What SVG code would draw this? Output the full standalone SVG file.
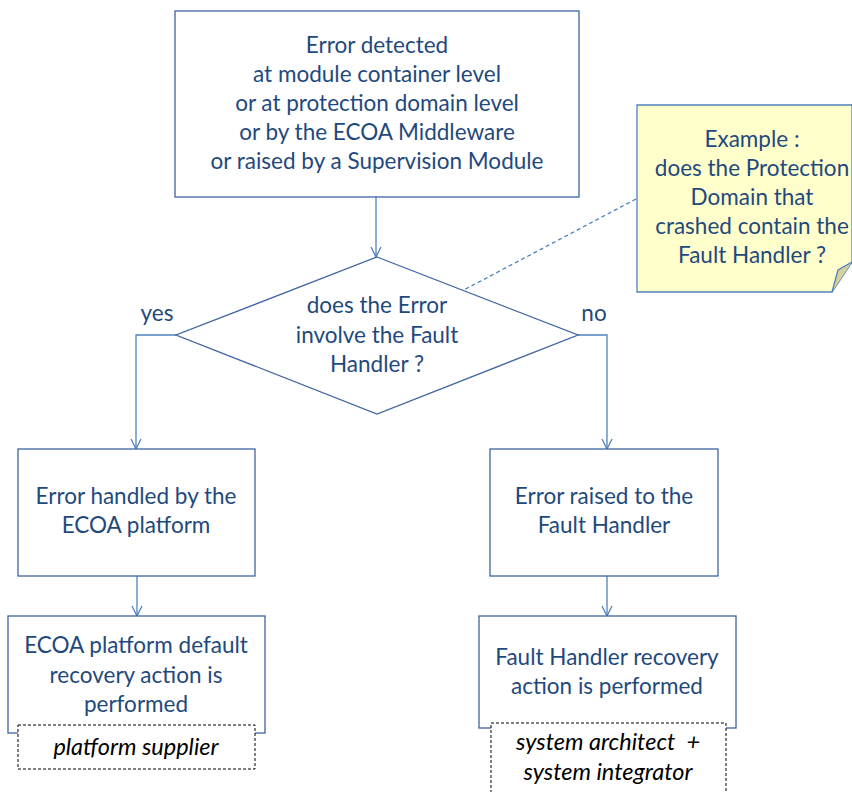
<svg xmlns="http://www.w3.org/2000/svg" width="852" height="792" viewBox="0 0 852 792">
<defs>
<marker id="arr" viewBox="0 0 12 12" refX="11" refY="6" markerWidth="12" markerHeight="12" markerUnits="userSpaceOnUse" orient="auto">
<path d="M1,1 L11,6 L1,11" fill="none" stroke="#4F81BD" stroke-width="1.3"/>
</marker>
</defs>
<style>
.box{fill:#fff;stroke:#3E64A0;stroke-width:1.3}
.t{font-family:Lato,"Open Sans","Liberation Sans",sans-serif;font-size:22.5px;fill:#1F497D;text-anchor:middle}
.ti{font-family:Lato,"Open Sans","Liberation Sans",sans-serif;font-size:23.5px;font-style:italic;fill:#000;text-anchor:middle;white-space:pre}
.lbl{fill:#fff;stroke:#000;stroke-width:1;stroke-dasharray:3,2}
.c{fill:none;stroke:#4F81BD;stroke-width:1.3}
</style>
<rect width="852" height="792" fill="#fff"/>
<g id="connectors">
<path class="c" d="M376,197 V257" marker-end="url(#arr)"/>
<path class="c" d="M176,335 H136 V449" marker-end="url(#arr)"/>
<path class="c" d="M578,335 H607 V449" marker-end="url(#arr)"/>
<path class="c" d="M137,576 V616" marker-end="url(#arr)"/>
<path class="c" d="M607,576 V616" marker-end="url(#arr)"/>
<path class="c" d="M636,199 L460,292" stroke-dasharray="4,3"/>
</g>
<g id="start">
<rect class="box" x="175" y="11" width="404" height="186"/>
<text class="t" x="377" y="53">Error detected</text>
<text class="t" x="377" y="82">at module container level</text>
<text class="t" x="377" y="111">or at protection domain level</text>
<text class="t" x="377" y="140">or by the ECOA Middleware</text>
<text class="t" x="377" y="169">or raised by a Supervision Module</text>
</g>
<g id="decision">
<polygon class="box" points="377,257 578,335 377,414 176,335"/>
<text class="t" x="377" y="313">does the Error</text>
<text class="t" x="377" y="343">involve the Fault</text>
<text class="t" x="377" y="372">Handler ?</text>
</g>
<g id="labels">
<text class="t" x="157" y="321">yes</text>
<text class="t" x="594" y="321">no</text>
</g>
<g id="note">
<path d="M637,105 H852 V262 L832,292 H637 Z" fill="#FFFFCC" stroke="#4F81BD" stroke-width="1.3"/>
<path d="M832,292 L838,270 L852,262" fill="#D6D09E" stroke="#4F81BD" stroke-width="1.3"/>
<text class="t" x="752" y="147">Example :</text>
<text class="t" x="752" y="176">does the Protection</text>
<text class="t" x="752" y="205">Domain that</text>
<text class="t" x="752" y="234">crashed contain the</text>
<text class="t" x="752" y="263">Fault Handler ?</text>
</g>
<g id="platform">
<rect class="box" x="18" y="449" width="237" height="127"/>
<text class="t" x="136" y="504">Error handled by the</text>
<text class="t" x="136" y="533">ECOA platform</text>
</g>
<g id="raised">
<rect class="box" x="490" y="449" width="228" height="127"/>
<text class="t" x="604" y="504">Error raised to the</text>
<text class="t" x="604" y="533">Fault Handler</text>
</g>
<g id="default-action">
<rect class="box" x="8" y="616" width="257" height="117"/>
<text class="t" x="136" y="653">ECOA platform default</text>
<text class="t" x="136" y="683">recovery action is</text>
<text class="t" x="136" y="712">performed</text>
<rect class="lbl" x="18" y="725" width="237" height="44"/>
<text class="ti" x="136" y="755">platform supplier</text>
</g>
<g id="fh-action">
<rect class="box" x="479" y="616" width="257" height="112"/>
<text class="t" x="607" y="665">Fault Handler recovery</text>
<text class="t" x="607" y="694">action is performed</text>
<rect class="lbl" x="491" y="723" width="235" height="80"/>
<text class="ti" x="608" y="750">system architect  +</text>
<text class="ti" x="608" y="780">system integrator</text>
</g>
</svg>
